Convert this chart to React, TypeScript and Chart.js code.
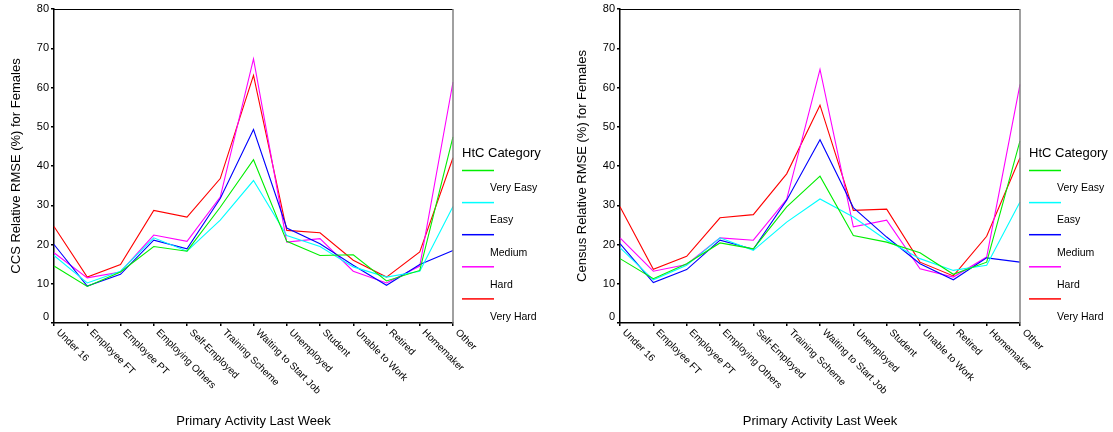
import React, { useEffect, useRef } from "react";
import { Chart, registerables } from "chart.js";

Chart.register(...registerables);

const categories = [
  "Under 16",
  "Employee FT",
  "Employee PT",
  "Employing Others",
  "Self-Employed",
  "Training Scheme",
  "Waiting to Start Job",
  "Unemployed",
  "Student",
  "Unable to Work",
  "Retired",
  "Homemaker",
  "Other",
];

const seriesNames = ["Very Easy", "Easy", "Medium", "Hard", "Very Hard"];
const yTicks = [0, 10, 20, 30, 40, 50, 60, 70, 80];

const ccsVeryEasy = [14.5, 9.3, 13.0, 19.5, 18.3, 29.5, 41.6, 20.8, 17.2, 17.4, 10.7, 13.4, 47.4];
const ccsEasy = [17.2, 10.2, 13.2, 21.7, 18.3, 26.2, 36.3, 22.3, 19.5, 14.3, 11.7, 13.2, 29.7];
const ccsMedium = [20.0, 9.4, 12.4, 21.1, 18.9, 31.7, 49.3, 24.2, 20.2, 14.7, 9.6, 14.9, 18.5];
const ccsHard = [17.9, 11.5, 13.0, 22.4, 20.8, 32.1, 67.3, 20.6, 21.5, 13.2, 10.2, 14.5, 61.4];
const ccsVeryHard = [24.6, 11.7, 14.9, 28.7, 27.0, 36.8, 63.1, 23.6, 23.0, 16.0, 11.7, 18.1, 42.1];

const censusVeryEasy = [16.4, 11.3, 15.1, 20.4, 18.9, 29.6, 37.4, 22.3, 20.6, 17.9, 12.4, 15.5, 46.4];
const censusEasy = [19.2, 11.0, 14.7, 21.7, 18.5, 25.7, 31.6, 27.0, 21.1, 16.4, 13.4, 14.7, 30.8];
const censusMedium = [20.2, 10.3, 13.6, 21.1, 18.8, 31.3, 46.7, 29.4, 21.9, 15.1, 11.0, 16.6, 15.5];
const censusHard = [21.7, 13.2, 14.9, 21.7, 21.1, 31.5, 64.6, 24.5, 26.2, 13.8, 11.7, 16.8, 60.8];
const censusVeryHard = [29.6, 13.7, 17.0, 26.8, 27.6, 38.0, 55.5, 28.7, 29.0, 15.5, 12.0, 22.1, 42.1];

const seriesColors = ["#00ee00", "#00ffff", "#0000ff", "#ff00ff", "#ff0000"];

const FONT = "'Liberation Sans', Arial, sans-serif";

const decorPlugin = {
  id: "spssDecor",
  afterDraw(chart: any) {
    const ctx = chart.ctx;
    const area = chart.chartArea;
    const xs = chart.scales.x;
    const ys = chart.scales.y;
    ctx.save();
    // top border
    ctx.strokeStyle = "#000";
    ctx.lineWidth = 1;
    ctx.beginPath();
    ctx.moveTo(area.left, area.top + 0.5);
    ctx.lineTo(area.right, area.top + 0.5);
    ctx.stroke();
    // right border
    ctx.strokeStyle = "#808080";
    ctx.lineWidth = 1.5;
    ctx.beginPath();
    ctx.moveTo(area.right, area.top);
    ctx.lineTo(area.right, area.bottom);
    ctx.stroke();

    // y tick labels
    ctx.fillStyle = "#000";
    ctx.font = `11px ${FONT}`;
    ctx.textAlign = "right";
    ctx.textBaseline = "middle";
    yTicks.forEach((v) => {
      const y = ys.getPixelForValue(v) - (v === 0 ? 6 : 0);
      ctx.fillText(String(v), area.left - 5, y);
    });

    // x tick labels rotated 45deg clockwise
    ctx.font = `10px ${FONT}`;
    ctx.textAlign = "left";
    ctx.textBaseline = "middle";
    (chart.data.labels as string[]).forEach((lab, i) => {
      const x = xs.getPixelForValue(i);
      ctx.save();
      ctx.translate(x + 4, area.bottom + 8);
      ctx.rotate(Math.PI / 4);
      ctx.fillText(lab, 0, 0);
      ctx.restore();
    });

    // legend
    const lx = area.right + 9;
    ctx.font = `13px ${FONT}`;
    ctx.textAlign = "left";
    ctx.textBaseline = "middle";
    ctx.fillText("HtC Category", lx, 153);
    ctx.font = `10.5px ${FONT}`;
    chart.data.datasets.forEach((ds: any, i: number) => {
      const ly = 170.5 + 32.1 * i;
      ctx.strokeStyle = ds.borderColor;
      ctx.lineWidth = 1.5;
      ctx.beginPath();
      ctx.moveTo(lx, ly);
      ctx.lineTo(lx + 32, ly);
      ctx.stroke();
      ctx.fillStyle = "#000";
      ctx.fillText(ds.label, lx + 28, ly + 18);
    });
    ctx.restore();
  },
};

function makeConfig(yTitle: string, series: number[][]) {
  return {
    type: "line" as const,
    data: {
      labels: categories,
      datasets: series.map((vals, i) => ({
        label: seriesNames[i],
        data: vals,
        borderColor: seriesColors[i],
        backgroundColor: seriesColors[i],
        borderWidth: 1.1,
        pointRadius: 0,
        tension: 0,
        fill: false,
      })),
    },
    options: {
      responsive: false,
      animation: false as const,
      devicePixelRatio: 1,
      layout: { padding: { left: 0, right: 93, top: 9, bottom: 0 } },
      plugins: { legend: { display: false }, tooltip: { enabled: false } },
      scales: {
        x: {
          type: "category" as const,
          offset: false,
          grid: {
            drawOnChartArea: false,
            drawTicks: true,
            tickLength: 3,
            color: "#000",
            lineWidth: 1.5,
          },
          border: { display: true, color: "#000", width: 1.5 },
          ticks: { display: false, autoSkip: false },
          title: {
            display: true,
            text: "Primary Activity Last Week",
            color: "#000",
            font: { family: FONT, size: 13 },
            padding: { top: 0, bottom: 3 },
          },
          afterFit: (s: any) => {
            s.height = 109;
          },
        },
        y: {
          min: 0,
          max: 80,
          grid: {
            drawOnChartArea: false,
            drawTicks: true,
            tickLength: 3,
            color: "#000",
            lineWidth: 1.5,
          },
          border: { display: true, color: "#000", width: 1.5 },
          ticks: { display: false, stepSize: 10 },
          title: {
            display: true,
            text: yTitle,
            color: "#000",
            font: { family: FONT, size: 13 },
            padding: { top: 9, bottom: 0 },
          },
          afterFit: (s: any) => {
            s.width = 54;
          },
        },
      },
    },
    plugins: [decorPlugin],
  };
}

function LineChart({ yTitle, series, left, width }: { yTitle: string; series: number[][]; left: number; width: number }) {
  const ref = useRef<HTMLCanvasElement | null>(null);
  useEffect(() => {
    if (!ref.current) return;
    const chart = new Chart(ref.current, makeConfig(yTitle, series) as any);
    return () => chart.destroy();
  }, []);
  return (
    <canvas
      ref={ref}
      width={width}
      height={432}
      style={{ position: "absolute", left, top: 0, width, height: 432 }}
    />
  );
}

export default function App() {
  useEffect(() => {
    document.body.style.margin = "0";
  }, []);
  return (
    <div style={{ position: "relative", width: 1113, height: 432, background: "#fff" }}>
      <LineChart
        yTitle="CCS Relative RMSE (%) for Females"
        series={[ccsVeryEasy, ccsEasy, ccsMedium, ccsHard, ccsVeryHard]}
        left={0}
        width={546}
      />
      <LineChart
        yTitle="Census Relative RMSE (%) for Females"
        series={[censusVeryEasy, censusEasy, censusMedium, censusHard, censusVeryHard]}
        left={566}
        width={547}
      />
    </div>
  );
}
